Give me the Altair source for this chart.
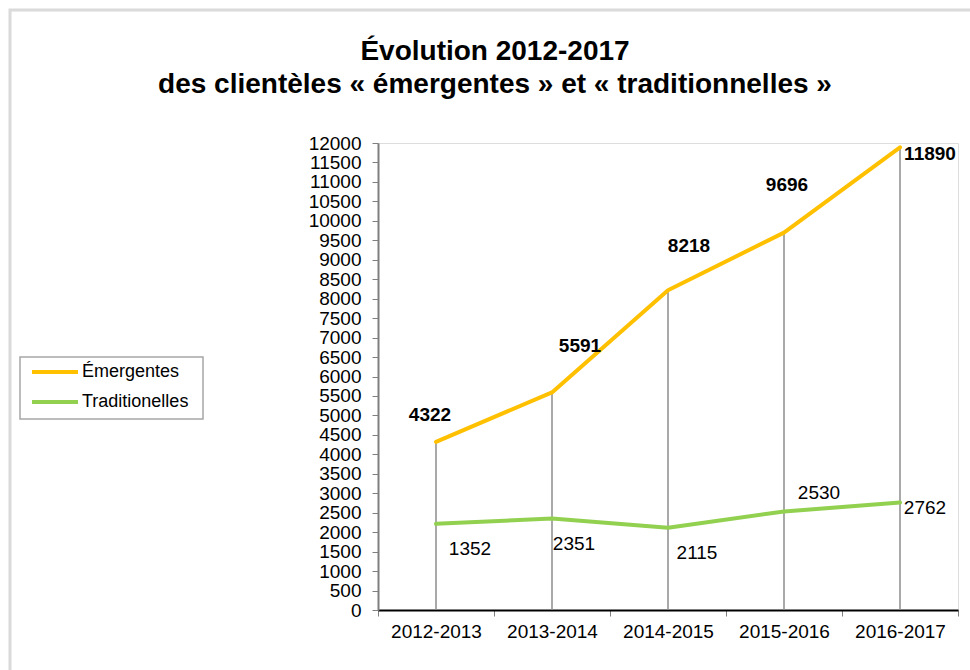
import altair as alt
import pandas as pd

categories = ["2012-2013", "2013-2014", "2014-2015", "2015-2016", "2016-2017"]
emergentes = [4322, 5591, 8218, 9696, 11890]
emergentes_labels = ["4322", "5591", "8218", "9696", "11890"]
traditionnelles = [2215, 2351, 2115, 2530, 2762]
traditionnelles_labels = ["1352", "2351", "2115", "2530", "2762"]
series_names = ["Émergentes", "Traditionelles"]
series_colors = ["#FFC000", "#92D050"]
title_lines = ["Évolution 2012-2017", "des clientèles « émergentes » et « traditionnelles »"]
y_ticks = list(range(0, 12001, 500))

rows = []
for c, v, l in zip(categories, emergentes, emergentes_labels):
    rows.append({"category": c, "series": series_names[0], "value": v, "label": l})
for c, v, l in zip(categories, traditionnelles, traditionnelles_labels):
    rows.append({"category": c, "series": series_names[1], "value": v, "label": l})
df = pd.DataFrame(rows)

FONT = "Liberation Sans"
W, H = 580, 467
PAD_L, PAD_T = 378, 143

x_enc = alt.X(
    "category:N",
    sort=categories,
    bandPosition=0.5,
    scale=alt.Scale(type="band", paddingInner=0, paddingOuter=0),
    axis=alt.Axis(
        title=None, labelAngle=0, tickBand="extent", tickSize=6, tickColor="#808080",
        domainColor="#000000", domainWidth=2, labelFontSize=19, labelColor="#000000",
        labelPadding=6, labelFont=FONT,
    ),
)
y_enc = alt.Y(
    "value:Q",
    scale=alt.Scale(domain=[0, 12000], nice=False),
    axis=alt.Axis(
        title=None, values=y_ticks, format="d", grid=False, tickSize=6, tickColor="#808080",
        domainColor="#7f7f7f", domainWidth=2, labelFontSize=19, labelColor="#000000",
        labelPadding=11, labelFont=FONT, labelOverlap=False, labelBound=False,
        labelFlush=False,
    ),
)

base = alt.Chart(df)
one = alt.Chart(pd.DataFrame({"k": [0]}))

frame = one.mark_rect(filled=False, stroke="#dadada", strokeWidth=3).encode(
    x=alt.value(10 - PAD_L), x2=alt.value(990 - PAD_L),
    y=alt.value(10 - PAD_T), y2=alt.value(700 - PAD_T),
)

title1 = one.mark_text(
    text=title_lines[0], fontSize=28, fontWeight="bold", font=FONT, color="#000000",
    align="center", baseline="alphabetic",
).encode(x=alt.value(495 - PAD_L), y=alt.value(60 - PAD_T))
title2 = one.mark_text(
    text=title_lines[1], fontSize=28, fontWeight="bold", font=FONT, color="#000000",
    align="center", baseline="alphabetic",
).encode(x=alt.value(495 - PAD_L), y=alt.value(93 - PAD_T))

drops = base.transform_filter(alt.datum.series == series_names[0]).mark_rule(
    color="#8c8c8c", strokeWidth=1.5
).encode(x=x_enc, y=y_enc, y2=alt.datum(0))

lines = base.mark_line(strokeWidth=4, strokeCap="round", strokeJoin="round").encode(
    x=x_enc,
    y=y_enc,
    color=alt.Color(
        "series:N",
        scale=alt.Scale(domain=series_names, range=series_colors),
        legend=None,
    ),
)

# legend drawn by hand
legend_box = one.mark_rect(filled=True, fill="#ffffff", stroke="#a6a6a6", strokeWidth=1.5).encode(
    x=alt.value(20 - PAD_L), x2=alt.value(203 - PAD_L),
    y=alt.value(357 - PAD_T), y2=alt.value(419 - PAD_T),
)
legend_layers = [legend_box]
for i, (name, col) in enumerate(zip(series_names, series_colors)):
    ly = [372, 402][i] - PAD_T
    legend_layers.append(
        one.mark_rule(color=col, strokeWidth=4).encode(
            x=alt.value(32 - PAD_L), x2=alt.value(78 - PAD_L), y=alt.value(ly)
        )
    )
    legend_layers.append(
        one.mark_text(text=name, fontSize=18, font=FONT, color="#000000",
                      align="left", baseline="middle").encode(
            x=alt.value(82 - PAD_L), y=alt.value(ly)
        )
    )

e_offsets = [(-6, -27), (28, -46), (21, -44), (3, -48), (30, 7)]
t_offsets = [(34, 25), (22, 25), (29, 25), (35, -19), (25, 5)]

label_layers = []
for i, c in enumerate(categories):
    dx, dy = e_offsets[i]
    label_layers.append(
        base.transform_filter((alt.datum.series == series_names[0]) & (alt.datum.category == c))
        .mark_text(fontSize=19, fontWeight="bold", font=FONT, color="#000000", dx=dx, dy=dy)
        .encode(x=x_enc, y=y_enc, text="label:N")
    )
    dx, dy = t_offsets[i]
    label_layers.append(
        base.transform_filter((alt.datum.series == series_names[1]) & (alt.datum.category == c))
        .mark_text(fontSize=19, font=FONT, color="#000000", dx=dx, dy=dy)
        .encode(x=x_enc, y=y_enc, text="label:N")
    )

chart = alt.layer(
    frame, title1, title2, drops, lines, *label_layers, *legend_layers
).properties(
    width=W,
    height=H,
    autosize=alt.AutoSizeParams(type="none"),
    padding={"left": PAD_L, "top": PAD_T, "right": 970 - PAD_L - W, "bottom": 670 - PAD_T - H},
).configure_view(stroke="#c8c8c8", strokeWidth=1.5).configure(background="#ffffff")

chart.save("out.html", embed_options={"renderer": "svg", "actions": False})
